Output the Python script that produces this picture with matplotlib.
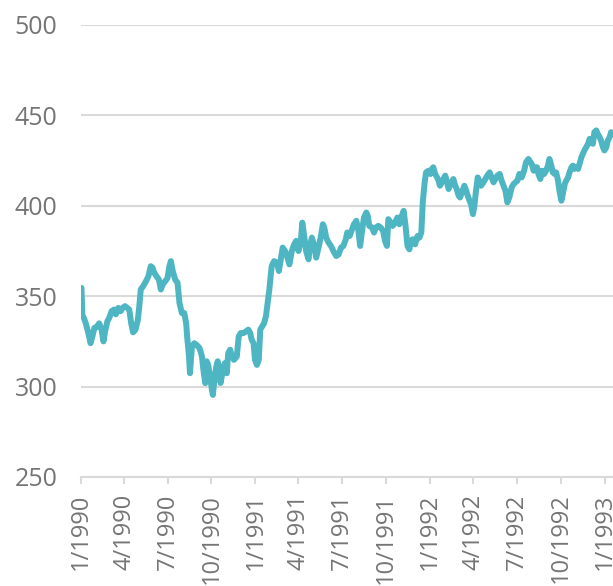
#!/usr/bin/env python3
import matplotlib
matplotlib.use("Agg")
import matplotlib.pyplot as plt
import matplotlib.dates as mdates
import pandas as pd

# Days counted from 1/1/1990
dayOffset = [1, 3, 6, 10, 15, 20, 24, 28, 33, 38, 43, 47, 50, 55, 59, 64, 69, 73, 78, 83,
             87, 92, 97, 101, 105, 109, 114, 119, 122, 125, 130, 136, 141, 146, 150, 153, 158, 163, 167, 171,
             176, 181, 185, 188, 192, 197, 202, 206, 211, 216, 220, 222, 226, 228, 232, 237, 242, 248, 253, 256,
             260, 263, 266, 270, 274, 276, 279, 283, 286, 290, 292, 297, 301, 305, 308, 312, 315, 320, 326, 330,
             334, 340, 345, 350, 354, 357, 361, 364, 368, 372, 375, 379, 383, 387, 394, 399, 404, 410, 414, 419,
             422, 427, 432, 436, 441, 446, 450, 455, 460, 463, 467, 471, 476, 479, 483, 488, 492, 497, 502, 506,
             509, 513, 518, 523, 528, 534, 539, 544, 549, 554, 557, 562, 567, 571, 576, 580, 584, 588, 592, 597,
             600, 603, 609, 613, 617, 622, 627, 632, 636, 640, 643, 648, 652, 657, 662, 666, 671, 675, 679, 683,
             687, 690, 694, 699, 704, 708, 712, 715, 719, 722, 727, 731, 734, 737, 741, 745, 748, 751, 755, 758,
             762, 765, 769, 772, 776, 779, 783, 786, 790, 793, 798, 802, 806, 809, 813, 816, 820, 823, 826, 830,
             833, 837, 842, 846, 850, 855, 859, 863, 867, 871, 876, 880, 884, 888, 892, 896, 901, 905, 909, 913,
             917, 922, 927, 931, 936, 943, 947, 950, 954, 957, 961, 965, 969, 973, 977, 980, 984, 987, 991, 994,
             998, 1001, 1005, 1008, 1012, 1015, 1019, 1022, 1026, 1029, 1032, 1036, 1040, 1043, 1047, 1050, 1053, 1057, 1061, 1064,
             1067, 1071, 1074, 1078, 1081, 1085, 1088, 1092, 1095, 1099, 1102, 1106, 1109, 1113]

indexValue = [354.6, 339.0, 338.0, 335.0, 330.0, 324.0, 328.0, 332.5, 333.0, 335.0, 331.5, 325.0, 330.0, 336.0, 338.0, 341.7, 342.6, 340.0, 343.5, 341.7,
              343.5, 344.5, 343.5, 342.6, 335.0, 330.0, 331.5, 337.0, 344.5, 353.7, 355.5, 358.3, 361.0, 366.6, 365.7, 363.0, 361.0, 359.2, 353.7, 356.5,
              358.3, 360.0, 366.6, 369.4, 363.8, 359.2, 357.4, 346.3, 340.7, 340.7, 335.0, 327.8, 316.7, 307.4, 322.0, 324.0, 323.0, 321.3, 316.7, 309.3,
              301.9, 314.0, 312.0, 305.6, 298.0, 295.4, 303.7, 311.0, 314.0, 309.3, 302.0, 309.3, 313.0, 307.4, 318.5, 320.4, 317.6, 314.8, 316.7, 327.8,
              329.6, 329.6, 330.5, 331.5, 329.6, 326.0, 324.0, 314.8, 312.0, 314.8, 331.5, 333.3, 335.0, 339.0, 353.7, 366.7, 369.4, 368.5, 363.9, 372.2,
              376.9, 375.0, 371.3, 367.6, 375.0, 378.7, 380.6, 375.0, 380.6, 390.7, 383.3, 375.0, 370.4, 377.8, 382.4, 377.8, 371.3, 376.9, 383.3, 389.8,
              388.0, 382.4, 379.6, 377.8, 375.0, 372.2, 373.1, 376.9, 377.8, 381.5, 385.2, 383.3, 387.0, 389.8, 391.7, 387.0, 377.8, 386.1, 393.5, 396.3,
              394.4, 388.9, 388.0, 385.2, 388.0, 388.9, 388.0, 386.1, 380.6, 377.8, 392.6, 390.7, 388.9, 390.7, 393.5, 389.8, 394.4, 397.2, 388.9, 377.8,
              375.9, 380.6, 381.5, 378.7, 383.3, 382.4, 385.2, 401.9, 413.0, 418.5, 419.4, 417.6, 420.4, 421.3, 417.6, 415.7, 413.9, 411.1, 413.0, 414.8,
              416.7, 413.9, 409.3, 411.1, 413.0, 414.8, 411.1, 409.3, 405.6, 404.6, 408.3, 411.1, 408.3, 405.6, 402.8, 400.9, 395.4, 400.0, 407.4, 415.7,
              413.9, 411.1, 413.0, 414.8, 416.7, 418.5, 415.7, 413.0, 414.8, 416.7, 417.6, 413.9, 411.1, 408.3, 401.9, 404.6, 410.2, 412.0, 413.0, 413.9,
              417.6, 415.7, 419.4, 424.0, 425.9, 423.1, 419.4, 421.3, 421.3, 417.6, 414.8, 419.4, 417.6, 419.4, 422.2, 425.9, 422.2, 418.5, 417.6, 418.5,
              413.9, 408.3, 402.8, 406.5, 412.0, 413.9, 415.7, 418.5, 421.3, 422.2, 420.4, 421.3, 420.4, 423.1, 426.9, 428.7, 430.6, 432.4, 434.3, 437.0,
              437.0, 434.3, 440.7, 441.7, 439.8, 438.0, 436.1, 432.4, 430.6, 432.4, 436.1, 438.0, 440.7, 439.8]

yTicks = [250, 300, 350, 400, 450, 500]

startDate = pd.Timestamp("1990-01-01")
dates = startDate + pd.to_timedelta(dayOffset, unit="D")

lineColor = "#4eb5c2"
gridColor = "#d9d9d9"
labelColor = "#757575"

plt.rcParams['font.family'] = ['Open Sans', 'DejaVu Sans']

fig = plt.figure(figsize=(6.13, 5.86), dpi=100)
ax = fig.add_axes([81 / 613, 109 / 586, 532 / 613, 452 / 586])

ax.plot(dates, indexValue, color=lineColor, linewidth=4.3, solid_joinstyle='round', solid_capstyle='round', zorder=3)

ax.set_ylim(250, 500)
ax.set_yticks(yTicks)
ax.set_xlim(startDate, startDate + pd.Timedelta(days=1113))

ax.xaxis.set_major_locator(mdates.MonthLocator(bymonth=[1, 4, 7, 10]))
ax.xaxis.set_major_formatter(mdates.DateFormatter("%-m/%Y"))

ax.grid(axis='y', color=gridColor, linewidth=1.5, zorder=0)
ax.set_axisbelow(True)
for side in ['top', 'right', 'left']:
    ax.spines[side].set_visible(False)
ax.spines['bottom'].set_color(gridColor)
ax.spines['bottom'].set_linewidth(1.5)

ax.tick_params(axis='y', length=0, pad=17, labelsize=18, labelcolor=labelColor)
ax.tick_params(axis='x', length=5, width=1.5, color=gridColor, pad=7, labelsize=17,
               labelcolor=labelColor, labelrotation=90)

fig.savefig("out.png", dpi=100)
